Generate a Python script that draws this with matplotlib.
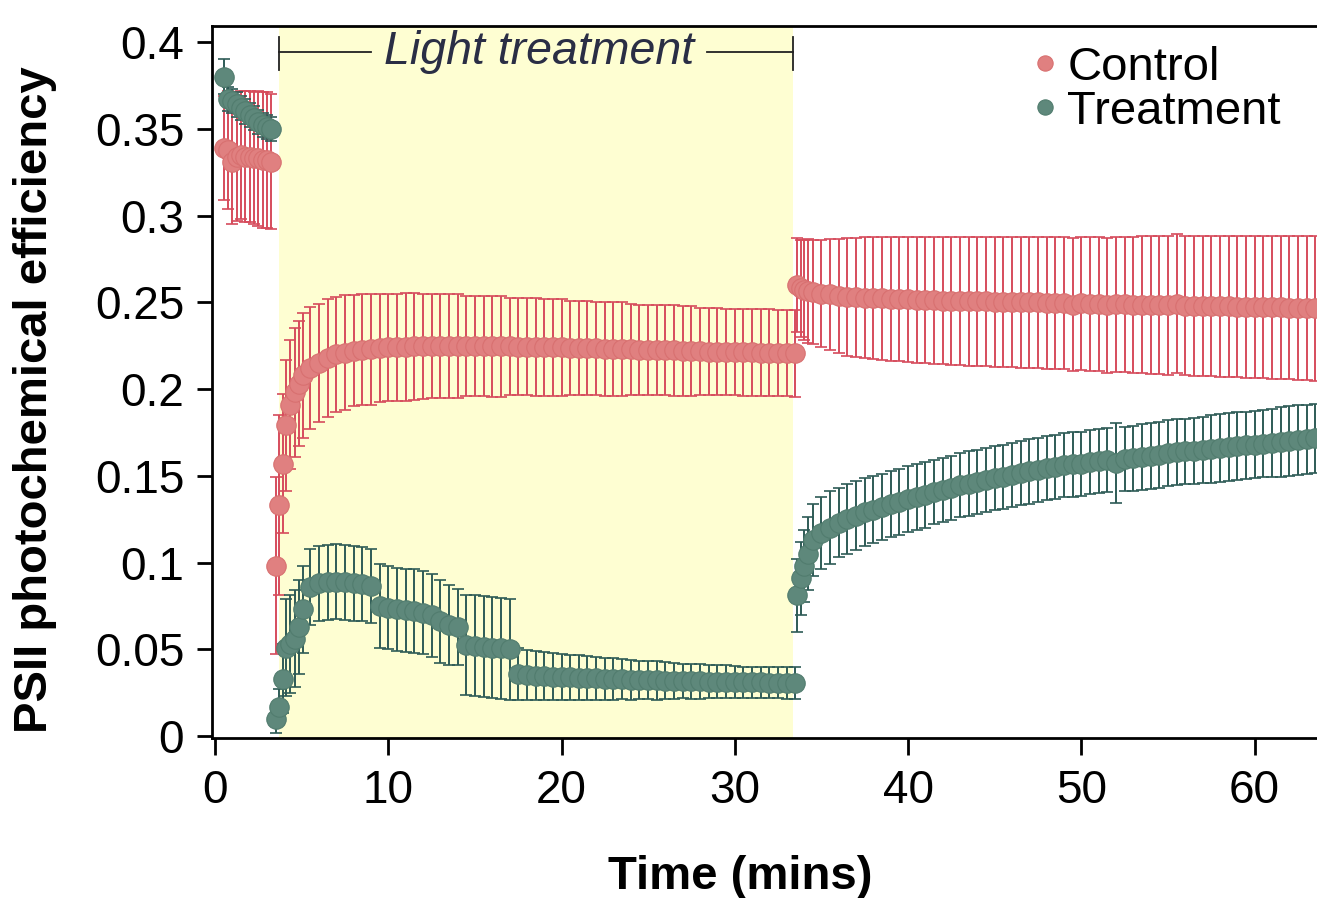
import numpy as np
import matplotlib
matplotlib.use("Agg")
import matplotlib.pyplot as plt
from matplotlib.lines import Line2D

plt.rcParams['font.family'] = ['Liberation Sans', 'DejaVu Sans']

# ---------------- data ----------------
# time points (minutes)
t_pre = [0.5, 0.75, 1.0, 1.25, 1.5, 1.75, 2.0, 2.25, 2.5, 2.75, 3.0, 3.25]
t_light = [3.5, 3.7, 3.9, 4.1, 4.35, 4.6, 4.85, 5.1] + list(np.arange(5.5, 33.51, 0.5))
t_rec = [33.6, 33.8, 34.0, 34.25, 34.5] + list(np.arange(35.0, 63.51, 0.5))

# Control
ctrl_pre = [0.339, 0.338, 0.331, 0.334, 0.335, 0.334, 0.334, 0.333, 0.333, 0.332, 0.332, 0.331]
ctrl_pre_err = [0.030, 0.034, 0.036, 0.037, 0.037, 0.038, 0.038, 0.038, 0.039, 0.039, 0.039, 0.039]
ctrl_light = [0.098, 0.133, 0.157, 0.179, 0.191, 0.198, 0.203, 0.208,
              0.212, 0.215, 0.218, 0.220, 0.221, 0.222, 0.2225, 0.223, 0.2235, 0.224,
              0.224, 0.2243, 0.2245, 0.2245, 0.2247, 0.2247, 0.2248, 0.2248, 0.2248, 0.2247,
              0.2247, 0.2246, 0.2245, 0.2245, 0.2244, 0.2243, 0.2242, 0.2241, 0.224, 0.224,
              0.2238, 0.2237, 0.2235, 0.2234, 0.2232, 0.2231, 0.223, 0.2228, 0.2227, 0.2226,
              0.2225, 0.2223, 0.2222, 0.222, 0.2219, 0.2218, 0.2216, 0.2215, 0.2214, 0.2213,
              0.2212, 0.2211, 0.221, 0.2209, 0.2208, 0.2207, 0.2206]
ctrl_light_err = [0.051, 0.052, 0.040, 0.038, 0.037, 0.037, 0.036, 0.036,
                  0.035, 0.034, 0.034, 0.033, 0.033, 0.032, 0.032, 0.032, 0.031, 0.031,
                  0.031, 0.031, 0.031, 0.030, 0.030, 0.030, 0.030, 0.030, 0.029, 0.029,
                  0.029, 0.029, 0.029, 0.028, 0.028, 0.028, 0.028, 0.028, 0.028, 0.028,
                  0.027, 0.027, 0.027, 0.027, 0.027, 0.027, 0.027, 0.026, 0.026, 0.026,
                  0.026, 0.026, 0.026, 0.026, 0.026, 0.025, 0.025, 0.025, 0.025, 0.025,
                  0.025, 0.025, 0.025, 0.025, 0.025, 0.025, 0.025]
ctrl_rec = [0.260, 0.258, 0.257, 0.2565, 0.256,
            0.255, 0.2545, 0.2537, 0.253, 0.2528, 0.2526, 0.2524, 0.2522, 0.252, 0.2518,
            0.2516, 0.2514, 0.2512, 0.2511, 0.251, 0.2509, 0.2508, 0.2507, 0.2506, 0.2505,
            0.2504, 0.2503, 0.2502, 0.2501, 0.25, 0.2499, 0.2498, 0.2497, 0.2496, 0.2485,
            0.2493, 0.2492, 0.2491, 0.2482, 0.2489, 0.2488, 0.2487, 0.2486, 0.2485, 0.2484,
            0.2483, 0.2492, 0.2481, 0.248, 0.2479, 0.2478, 0.2477, 0.2476, 0.2475, 0.2474,
            0.2473, 0.2472, 0.2471, 0.247, 0.2469, 0.2468, 0.2467, 0.2466]
ctrl_rec_err = [0.027, 0.028, 0.029, 0.030, 0.030,
                0.031, 0.032, 0.033, 0.034, 0.0345, 0.035, 0.0352, 0.0354, 0.0356, 0.0358,
                0.036, 0.0362, 0.0364, 0.0366, 0.0368, 0.037, 0.0371, 0.0372, 0.0373, 0.0374,
                0.0375, 0.0376, 0.0377, 0.0378, 0.0379, 0.038, 0.0381, 0.0382, 0.0383, 0.0384,
                0.0385, 0.0386, 0.0387, 0.0388, 0.0389, 0.039, 0.0392, 0.0394, 0.0396, 0.0398,
                0.040, 0.0401, 0.0402, 0.0403, 0.0404, 0.0405, 0.0406, 0.0407, 0.0408, 0.0409,
                0.041, 0.0411, 0.0412, 0.0413, 0.0414, 0.0415, 0.0416, 0.0417]

# Treatment
trt_pre = [0.380, 0.367, 0.366, 0.364, 0.362, 0.360, 0.358, 0.356, 0.354, 0.352, 0.351, 0.350]
trt_pre_err = [0.010, 0.007, 0.007, 0.007, 0.007, 0.007, 0.007, 0.007, 0.007, 0.007, 0.007, 0.007]
trt_light = [0.010, 0.017, 0.033, 0.051, 0.053, 0.056, 0.063, 0.073,
             0.086, 0.088, 0.0885, 0.089, 0.0885, 0.088, 0.0875, 0.0865, 0.075, 0.074,
             0.073, 0.0725, 0.072, 0.071, 0.0695, 0.066, 0.064, 0.063, 0.0525, 0.052,
             0.0515, 0.051, 0.0505, 0.050, 0.0357, 0.0352, 0.0348, 0.0345, 0.0342, 0.034,
             0.0338, 0.0336, 0.0334, 0.0332, 0.033, 0.0328, 0.0326, 0.0325, 0.0323, 0.0322,
             0.032, 0.0319, 0.0318, 0.0317, 0.0316, 0.0315, 0.0314, 0.0313, 0.0312, 0.0311,
             0.031, 0.031, 0.0309, 0.0308, 0.0307, 0.0306, 0.0305]
trt_light_err = [0.008, 0.010, 0.020, 0.028, 0.028, 0.028, 0.027, 0.025,
                 0.022, 0.0215, 0.0215, 0.0215, 0.0215, 0.0215, 0.0215, 0.0215, 0.024, 0.024,
                 0.024, 0.024, 0.024, 0.024, 0.024, 0.024, 0.023, 0.022, 0.029, 0.029,
                 0.029, 0.029, 0.029, 0.029, 0.015, 0.0145, 0.014, 0.014, 0.0135, 0.0135,
                 0.013, 0.013, 0.0125, 0.0125, 0.012, 0.012, 0.0115, 0.0115, 0.011, 0.011,
                 0.011, 0.0105, 0.0105, 0.010, 0.010, 0.010, 0.0095, 0.0095, 0.0095, 0.009,
                 0.009, 0.009, 0.009, 0.009, 0.009, 0.009, 0.009]
trt_rec = [0.081, 0.091, 0.098, 0.105, 0.113,
           0.117, 0.120, 0.123, 0.125, 0.127, 0.129, 0.1305, 0.132, 0.1335, 0.135,
           0.1365, 0.138, 0.139, 0.1405, 0.142, 0.143, 0.1445, 0.1455, 0.1465, 0.1475,
           0.1485, 0.1495, 0.1505, 0.1515, 0.1525, 0.1535, 0.1545, 0.155, 0.156, 0.1565,
           0.157, 0.158, 0.1585, 0.159, 0.1575, 0.1595, 0.160, 0.161, 0.1615, 0.162,
           0.163, 0.1635, 0.164, 0.1645, 0.165, 0.1655, 0.166, 0.1665, 0.167, 0.1675,
           0.168, 0.1685, 0.169, 0.1695, 0.170, 0.1705, 0.171, 0.1715]
trt_rec_err = [0.021, 0.021, 0.021, 0.021, 0.021,
               0.021, 0.021, 0.020, 0.020, 0.020, 0.0195, 0.0195, 0.019, 0.019, 0.019,
               0.019, 0.019, 0.019, 0.0185, 0.0185, 0.0185, 0.0185, 0.0185, 0.0185, 0.0185,
               0.0185, 0.0185, 0.0185, 0.0185, 0.0185, 0.0185, 0.0185, 0.0185, 0.0185, 0.0185,
               0.0185, 0.0185, 0.0185, 0.0185, 0.023, 0.0185, 0.0185, 0.019, 0.019, 0.019,
               0.019, 0.019, 0.019, 0.019, 0.019, 0.0195, 0.0195, 0.0195, 0.0195, 0.0195,
               0.0195, 0.0195, 0.0195, 0.020, 0.020, 0.020, 0.020, 0.020]

light_start, light_end = 3.68, 33.35
series_names = ["Control", "Treatment"]

# ---------------- styling ----------------
ctrl_fc, ctrl_ec, ctrl_bar = '#E08080', '#D87070', '#D64C5C'
trt_fc, trt_ec, trt_bar = '#5E887B', '#517C6E', '#2E5B56'

W, H = 1317, 898
fig = plt.figure(figsize=(W / 100, H / 100), dpi=100)
ax = fig.add_axes([212 / W, 1 - 738 / H, (W - 212) / W, (738 - 25.7) / H])

t_all = np.array(t_pre + t_light + t_rec)
ctrl_all = np.array(ctrl_pre + ctrl_light + ctrl_rec)
ctrl_err = np.array(ctrl_pre_err + ctrl_light_err + ctrl_rec_err)
trt_all = np.array(trt_pre + trt_light + trt_rec)
trt_err = np.array(trt_pre_err + trt_light_err + trt_rec_err)

ax.axvspan(light_start, light_end, color='#FEFED2', zorder=0, lw=0)

ax.errorbar(t_all, ctrl_all, yerr=ctrl_err, fmt='none', ecolor=ctrl_bar,
            elinewidth=1.4, capsize=4, capthick=1.2, zorder=2)
ax.errorbar(t_all, trt_all, yerr=trt_err, fmt='none', ecolor=trt_bar,
            elinewidth=1.4, capsize=4, capthick=1.2, zorder=2)
ax.plot(t_all, ctrl_all, 'o', ms=14, mfc=ctrl_fc, mec=ctrl_ec, mew=0.8, zorder=3)
ax.plot(t_all, trt_all, 'o', ms=14, mfc=trt_fc, mec=trt_ec, mew=0.8, zorder=3)

ax.set_xlim(-0.17, 63.6)
ax.set_ylim(-0.00115, 0.4094)
ax.set_xticks([0, 10, 20, 30, 40, 50, 60])
ax.set_yticks([0, 0.05, 0.1, 0.15, 0.2, 0.25, 0.3, 0.35, 0.4])
ax.set_yticklabels(['0', '0.05', '0.1', '0.15', '0.2', '0.25', '0.3', '0.35', '0.4'])
ax.tick_params(axis='y', length=11, width=2, labelsize=33, pad=9)
ax.tick_params(axis='x', length=12, width=2, labelsize=33, pad=10)
for s in ['left', 'bottom', 'top']:
    ax.spines[s].set_linewidth(2)
ax.spines['right'].set_visible(False)

# light treatment bracket
yb = 0.394
ax.plot([light_start, light_start], [0.384, 0.403], color='#222222', lw=1.3, zorder=4)
ax.plot([light_start, 9.0], [yb, yb], color='#222222', lw=1.3, zorder=4)
ax.plot([28.4, light_end], [yb, yb], color='#222222', lw=1.3, zorder=4)
ax.plot([light_end, light_end], [0.384, 0.403], color='#222222', lw=1.3, zorder=4)
ax.text(18.7, yb, 'Light treatment', style='italic', fontsize=33.5, color='#2A2E45',
        ha='center', va='center', zorder=4)

# legend
handles = [Line2D([], [], ls='none', marker='o', ms=11, mfc=ctrl_fc, mec=ctrl_ec, mew=0.8),
           Line2D([], [], ls='none', marker='o', ms=11, mfc=trt_fc, mec=trt_ec, mew=0.8)]
ax.legend(handles, series_names, loc='upper left', bbox_to_anchor=(1032 / W, 1 - 46 / H),
          bbox_transform=fig.transFigure, frameon=False, fontsize=34,
          handlelength=0.55, handletextpad=0.2, labelspacing=0.0, borderpad=0, borderaxespad=0)

fig.text(35 / W, 1 - 400 / H, 'PSII photochemical efficiency', rotation=90,
         fontsize=34, fontweight='bold', ha='center', va='center')
fig.text(740 / W, 1 - 877 / H, 'Time (mins)', fontsize=34, fontweight='bold',
         ha='center', va='center')

fig.savefig('out.png', dpi=100)
